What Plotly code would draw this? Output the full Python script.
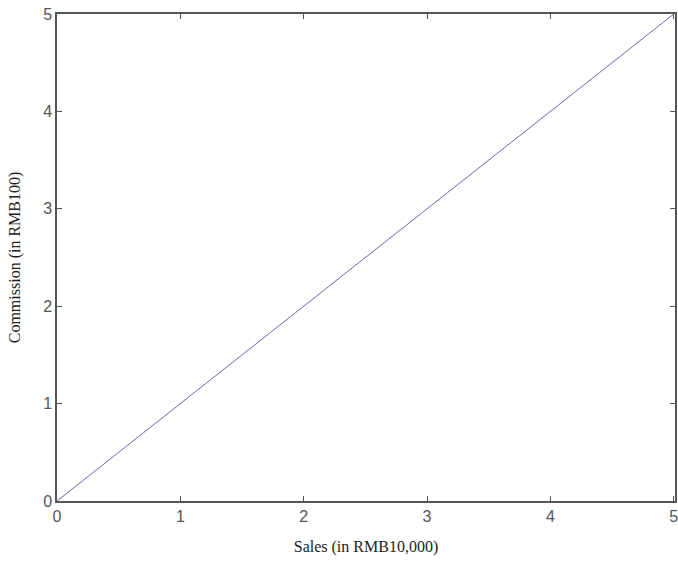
import plotly.graph_objects as go

sales = [0, 5]
commission = [0, 5]
tick_vals = [0, 1, 2, 3, 4, 5]
tick_text = ["0", "1", "2", "3", "4", "5"]

fig = go.Figure()
fig.add_trace(go.Scatter(x=sales, y=commission, mode="lines",
                         line=dict(color="#6a6aae", width=1), showlegend=False))

axis_common = dict(
    showgrid=False, zeroline=False, showline=True, linecolor="#555555", linewidth=1.5,
    ticks="inside", ticklen=5, tickcolor="#555555", mirror="ticks",
    tickfont=dict(family="Liberation Sans, Arial, sans-serif", size=16, color="#555555"),
    tickvals=tick_vals, ticktext=tick_text,
)

fig.update_layout(
    width=678, height=564,
    margin=dict(l=57, r=0, t=14, b=63),
    paper_bgcolor="white", plot_bgcolor="white",
    xaxis=dict(range=[0, 5.01], ticklabeloverflow="allow",
               title=dict(text="Sales (in RMB10,000)", standoff=17,
               font=dict(family="Liberation Serif, Times New Roman, serif", size=16, color="#222222")),
               **axis_common),
    yaxis=dict(range=[0, 5], ticklabeloverflow="allow",
               title=dict(text="Commission (in RMB100)", standoff=19,
               font=dict(family="Liberation Serif, Times New Roman, serif", size=16, color="#222222")),
               **axis_common),
)

fig.write_html("out.html")
